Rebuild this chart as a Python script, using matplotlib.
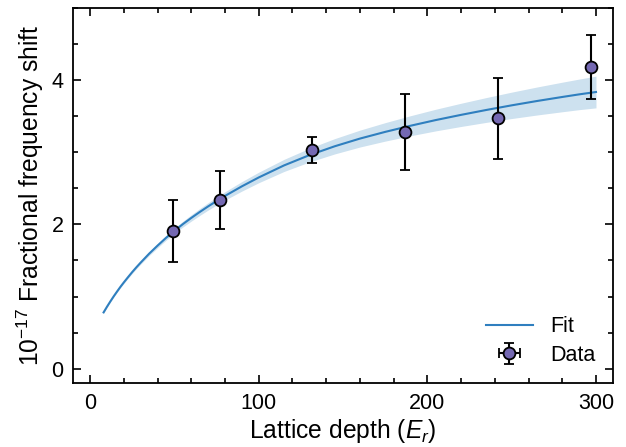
import matplotlib
matplotlib.use("Agg")
import matplotlib.pyplot as plt
from matplotlib.ticker import MultipleLocator

plt.rcParams['font.family'] = ['Liberation Sans', 'DejaVu Sans']
plt.rcParams['mathtext.fontset'] = 'custom'
plt.rcParams['mathtext.rm'] = 'Liberation Sans'
plt.rcParams['mathtext.it'] = 'Liberation Sans:italic'

# measured points
depth = [49.3, 76.8, 131.8, 186.9, 242.0, 297.2]
depth_err = [0, 0, 0, 0, 0, 0]
shift = [1.91, 2.34, 3.03, 3.28, 3.47, 4.18]
shift_err = [0.43, 0.40, 0.185, 0.525, 0.56, 0.445]

# fit curve
fit_x = [8, 10, 12, 14, 16, 18, 20, 22.5, 25, 27.5, 30, 35, 40, 45, 50, 55, 60,
         65, 70, 75, 80, 90, 100, 115, 130, 145, 160, 175, 190, 205, 220, 235,
         250, 265, 280, 290, 300]
fit_y = [0.780, 0.858, 0.932, 1.003, 1.070, 1.135, 1.196, 1.269, 1.340, 1.407,
         1.471, 1.594, 1.706, 1.813, 1.911, 2.004, 2.090, 2.172, 2.250, 2.324,
         2.395, 2.528, 2.651, 2.818, 2.960, 3.083, 3.190, 3.283, 3.368, 3.447,
         3.519, 3.587, 3.651, 3.711, 3.767, 3.803, 3.836]
fit_err = [0.008, 0.009, 0.010, 0.011, 0.012, 0.013, 0.015, 0.017, 0.019, 0.020,
           0.022, 0.026, 0.030, 0.033, 0.037, 0.040, 0.044, 0.048, 0.051, 0.055,
           0.058, 0.066, 0.073, 0.084, 0.095, 0.106, 0.117, 0.128, 0.139, 0.150,
           0.161, 0.172, 0.183, 0.194, 0.205, 0.212, 0.220]

fig = plt.figure(figsize=(6.26, 4.47), dpi=100)
ax = fig.add_axes([0.117, 0.143, 0.862, 0.839])

lo = [y - e for y, e in zip(fit_y, fit_err)]
hi = [y + e for y, e in zip(fit_y, fit_err)]
ax.fill_between(fit_x, lo, hi, color='#cde1ef', lw=0, zorder=1)
ax.plot(fit_x, fit_y, color='#2f7fbf', lw=1.5, label='Fit', zorder=2)
ax.errorbar(depth, shift, xerr=depth_err, yerr=shift_err, fmt='o', ms=8.5,
            mfc='#7468b2', mec='black', mew=1.3, ecolor='black',
            elinewidth=1.5, capsize=3.8, capthick=1.5, label='Data', zorder=3)

ax.set_xlim(-10, 310)
ax.set_ylim(-0.2, 5)
ax.xaxis.set_major_locator(MultipleLocator(100))
ax.xaxis.set_minor_locator(MultipleLocator(20))
ax.yaxis.set_major_locator(MultipleLocator(2))
ax.yaxis.set_minor_locator(MultipleLocator(0.5))
ax.tick_params(which='both', direction='in', top=True, right=True,
               labelsize=15.5, width=1.2)
ax.tick_params(which='major', length=6, pad=7)
ax.tick_params(which='minor', length=3.5)
for s in ax.spines.values():
    s.set_linewidth(1.3)

ax.set_xlabel('Lattice depth ($E_r$)', fontsize=17.7, labelpad=2)
ax.set_ylabel('$10^{-17}$ Fractional frequency shift', fontsize=17.7, labelpad=4)

ax.legend(loc='lower right', frameon=False, fontsize=15.5, handlelength=2.2,
          borderaxespad=0.4, labelspacing=0.35)

fig.savefig('out.png', dpi=100)
